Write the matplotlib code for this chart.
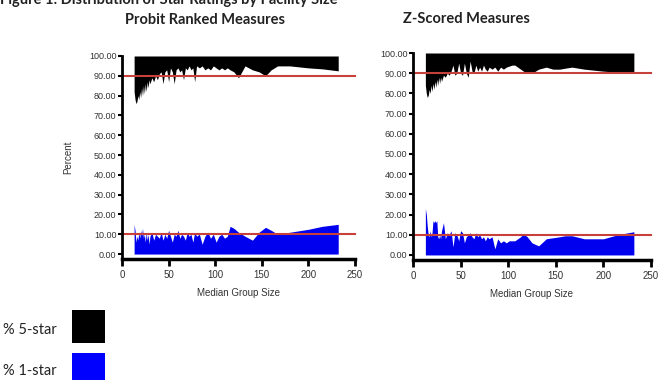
import matplotlib
matplotlib.use("Agg")
import matplotlib.pyplot as plt
from matplotlib.patches import Rectangle

# ---- data ----
sizes = [13, 14, 15, 16, 17, 18, 19, 20, 21, 22, 23, 24, 25, 26, 27, 28, 29, 30,
         32, 34, 36, 38, 40, 42, 44, 46, 48, 50, 52, 54, 56, 58, 60, 62, 64, 66,
         68, 70, 72, 74, 76, 78, 80, 83, 86, 89, 92, 95, 98, 101, 104, 107, 110,
         113, 116, 120, 125, 132, 140, 147, 154, 160, 167, 180, 200, 215, 232]

probit_5star = [82, 78, 76, 77, 80, 78, 82, 79, 84, 80, 85, 81, 86, 82, 87, 84, 88, 86,
                89, 87, 90, 88, 91, 92, 86, 92, 93, 87, 94, 92, 86, 93, 94, 92, 93, 88,
                94, 93, 95, 93, 94, 87, 95, 94, 95, 93, 94, 93, 95, 94, 93, 94, 93,
                94, 93, 92, 89, 95, 93, 92, 90, 93, 95, 95, 94, 93.5, 92.5]
probit_1star = [15, 12, 6, 9, 7, 11, 8, 12, 9, 13, 8, 10, 6, 11, 7, 10, 5, 9,
                11, 7, 10, 9, 8, 11, 7, 10, 8, 12, 9, 6, 10, 9, 12, 8, 10, 9,
                7, 11, 9, 10, 6, 11, 9, 10, 5, 9, 11, 8, 10, 6, 9, 10, 8,
                9, 14, 13, 11, 9, 7, 11, 13.5, 12, 10, 11, 12.5, 14, 15]

zscore_5star = [84, 80, 78, 79, 82, 80, 84, 81, 85, 82, 86, 83, 87, 84, 88, 85, 88, 86,
                89, 88, 90, 89, 91, 94, 89, 90, 95, 90, 89, 95, 90, 88, 96, 91, 90, 94,
                91, 93, 91, 94, 92, 91, 93, 92, 93, 91, 93, 92, 93, 93.5, 94, 94, 93,
                92, 91, 90, 90, 92, 93, 92, 92, 92.5, 93, 92, 91, 90.5, 90]
zscore_1star = [23, 20, 14, 10, 9, 12, 9, 11, 17, 16, 17, 16, 17, 9, 8, 10, 8, 12,
                16, 8, 11, 10, 12, 4, 11, 10, 7, 12, 11, 6, 9, 10, 11, 9, 8, 11,
                9, 10, 8, 9, 7, 9, 8, 9, 3, 8, 6, 7, 6, 7, 7, 7, 8,
                9, 10.5, 9, 6, 4.5, 8, 8.5, 9, 9.5, 9.5, 8, 8, 10, 11.5]

reference_5 = 90
reference_1 = 10

panel_titles = ["Probit Ranked Measures", "Z-Scored Measures"]
yticks = [0, 10, 20, 30, 40, 50, 60, 70, 80, 90, 100]
xticks = [0, 50, 100, 150, 200, 250]
legend_labels = ["% 5-star", "% 1-star"]

# ---- figure ----
W, H = 660, 380
fig = plt.figure(figsize=(W / 100, H / 100), dpi=100)
fig.patch.set_facecolor("white")

def fx(px):
    return px / W

def fy(py):
    return 1 - py / H

narrow = ["Liberation Sans Narrow", "Liberation Sans", "DejaVu Sans"]
title_font = ["Lato", "DejaVu Sans"]
red = "#c8403a"

panels = [
    dict(rect=[fx(122), fy(259), fx(355) - fx(122), fy(55) - fy(259)],
         five=probit_5star, one=probit_1star, title=panel_titles[0],
         title_xy=(205, 20), ylabel=True),
    dict(rect=[fx(413), fy(260), fx(651) - fx(413), fy(52) - fy(260)],
         five=zscore_5star, one=zscore_1star, title=panel_titles[1],
         title_xy=(466, 19), ylabel=False),
]

for p in panels:
    ax = fig.add_axes(p["rect"])
    ax.fill_between(sizes, p["five"], 100, color="black", linewidth=0)
    ax.fill_between(sizes, 0, p["one"], color="#0000ee", linewidth=0)
    ax.axhline(reference_5, color=red, linewidth=1.5, clip_on=False)
    ax.axhline(reference_1, color=red, linewidth=1.5, clip_on=False)
    ax.set_xlim(0, 250)
    ax.set_ylim(-2.5, 100.5)
    ax.set_yticks(yticks)
    ax.set_yticklabels([f"{v:.2f}" for v in yticks], family=narrow,
                       fontsize=6.5, color="#333333")
    ax.set_xticks(xticks)
    ax.set_xticklabels([str(v) for v in xticks], family=narrow,
                       fontsize=7, color="#333333")
    for s in ["top", "right"]:
        ax.spines[s].set_visible(False)
    ax.spines["left"].set_linewidth(2)
    ax.spines["bottom"].set_linewidth(2.5)
    ax.spines["left"].set_bounds(-2.5, 100)
    ax.tick_params(axis="y", direction="out", length=3, width=1.5, pad=1)
    ax.tick_params(axis="x", direction="out", length=5, width=2, pad=3)
    ax.set_xlabel("Median Group Size", family=narrow, fontsize=7,
                  color="#333333", labelpad=6)
    if p["ylabel"]:
        ax.set_ylabel("Percent", family=narrow, fontsize=7, color="#333333",
                      labelpad=11)
    fig.text(fx(p["title_xy"][0]), fy(p["title_xy"][1]), p["title"],
             family=title_font, fontweight="bold", fontsize=10.5,
             ha="center", va="center", color="#222222")

fig.text(0.0, fy(0), "Figure 1: Distribution of Star Ratings by Facility Size",
         family=title_font, fontweight="bold", fontsize=10.5, ha="left",
         va="center", color="#222222")

# legend swatches
fig.text(fx(3), fy(330), legend_labels[0], family=title_font, fontsize=10.5,
         ha="left", va="center", color="#222222")
fig.text(fx(3), fy(371), legend_labels[1], family=title_font, fontsize=10.5,
         ha="left", va="center", color="#222222")
fig.patches.append(Rectangle((fx(72), fy(343)), fx(105) - fx(72), fy(310) - fy(343),
                             transform=fig.transFigure, facecolor="black",
                             edgecolor="none"))
fig.patches.append(Rectangle((fx(72), fy(386)), fx(105) - fx(72), fy(353) - fy(386),
                             transform=fig.transFigure, facecolor="#0000ff",
                             edgecolor="none"))

fig.savefig("out.png", dpi=100)
